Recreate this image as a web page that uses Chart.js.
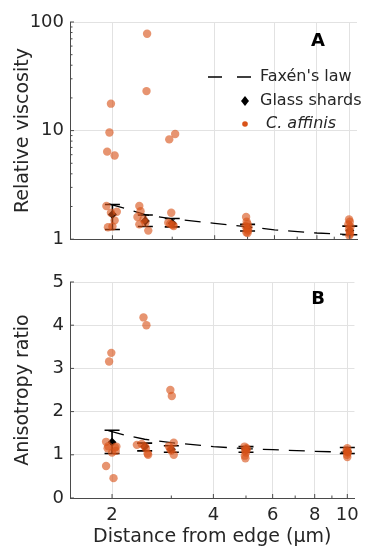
<!DOCTYPE html>
<html lang="en">
<head>
<meta charset="UTF-8">
<title>Relative viscosity and anisotropy</title>
<script src="https://cdn.jsdelivr.net/npm/chart.js"></script>
<style>
  body { margin:0; background:#fff; }
  .panel { position:absolute; left:0; width:366px; }
</style>
</head>
<body>
<div class="panel" style="top:0;height:256px;"><canvas id="chartA"></canvas></div>
<div class="panel" style="top:250px;height:297px;"><canvas id="chartB"></canvas></div>
<script>
// distance from edge (µm)
const xTicks = [2, 4, 6, 8, 10];
const xMinor = [3, 5, 7, 9];

// glass shards (mean + error bar)
const glassX   = [2, 2.5, 3, 5, 10];
const glassA   = [1.69, 1.47, 1.40, 1.28, 1.20];
const glassALo = [1.23, 1.31, 1.30, 1.19, 1.10];
const glassAHi = [2.09, 1.67, 1.55, 1.37, 1.32];
const glassB   = [1.29, 1.19, 1.13, 1.12, 1.08];
const glassBLo = [1.03, 1.09, 1.06, 1.06, 1.03];
const glassBHi = [1.57, 1.27, 1.21, 1.19, 1.17];

// Faxén's law curve
const faxenX = [1.95, 2.2, 2.5, 3, 4, 5, 6, 8, 10];
const faxenA = [2.12, 1.90, 1.68, 1.54, 1.40, 1.30, 1.22, 1.14, 1.10];
const faxenB = [1.56, 1.45, 1.36, 1.28, 1.19, 1.14, 1.12, 1.08, 1.06];

// C. affinis, panel A (relative viscosity)
const affAX = [1.98,1.96,1.93,2.03,1.92,2.06,2.03,1.94,2.0,1.98,
               2.53,2.52,2.40,2.42,2.37,2.40,2.55,2.47,2.5,
               3.06,2.94,2.98,2.92,3.01,2.96,3.03,
               4.95,4.97,5.0,4.93,5.03,4.98,5.02,4.96,5.0,
               9.95,10.0,9.9,10.05,9.95,10.0,10.02,9.97];
const affAY = [17.7,9.6,6.4,5.9,2.02,1.79,1.49,1.29,1.31,1.75,
               78,23.1,2.02,1.81,1.60,1.37,1.20,1.52,1.42,
               9.3,8.3,1.75,1.42,1.35,1.38,1.32,
               1.6,1.45,1.38,1.32,1.28,1.24,1.2,1.16,1.14,
               1.52,1.45,1.37,1.3,1.23,1.17,1.12,1.08];

// C. affinis, panel B (anisotropy ratio)
const affBX = [1.99,1.96,1.92,1.94,2.06,1.95,2.05,2.04,1.92,2.02,2.0,
               2.48,2.53,2.37,2.45,2.52,2.55,2.5,2.56,
               2.98,3.01,3.05,2.95,2.98,3.05,3.0,
               4.95,5.02,4.97,5.0,4.96,4.98,5.03,
               10.0,9.95,10.03,9.98,10.0,10.02];
const affBY = [3.36,3.16,1.30,1.15,1.19,1.20,1.09,1.17,0.74,0.46,1.05,
               4.18,4.0,1.23,1.25,1.15,1.03,1.2,1.0,
               2.5,2.36,1.28,1.2,1.13,1.0,1.1,
               1.19,1.15,1.10,1.05,0.98,0.92,1.12,
               1.15,1.1,1.05,1.0,0.95,1.07];

const ink = '#262626';
const axisCol = '#4a4a4a';
const gridCol = '#e2e2e2';
const orange = 'rgba(217,83,25,0.62)';
const font = 'DejaVu Sans';

const pts = (xs, ys) => xs.map((x, i) => ({x: x, y: ys[i]}));

// vertical error bars with caps for the glass shards
const errorBars = {
  id: 'errorBars',
  afterDatasetDraw(chart, args) {
    const ds = chart.data.datasets[args.index];
    if (!ds.errLo) return;
    const ctx = chart.ctx, sx = chart.scales.x, sy = chart.scales.y;
    ctx.save();
    ctx.strokeStyle = '#000';
    ctx.lineWidth = 1.6;
    ds.data.forEach((p, i) => {
      const px = sx.getPixelForValue(p.x);
      const lo = sy.getPixelForValue(ds.errLo[i]);
      const hi = sy.getPixelForValue(ds.errHi[i]);
      ctx.beginPath();
      ctx.moveTo(px, lo); ctx.lineTo(px, hi);
      ctx.moveTo(px - 7.5, lo); ctx.lineTo(px + 7.5, lo);
      ctx.moveTo(px - 7.5, hi); ctx.lineTo(px + 7.5, hi);
      ctx.stroke();
    });
    ctx.restore();
  }
};

// inward tick marks, panel letter and legend
const decor = {
  id: 'decor',
  afterDraw(chart, args, opt) {
    const ctx = chart.ctx, a = chart.chartArea;
    const sx = chart.scales.x, sy = chart.scales.y;
    ctx.save();
    ctx.strokeStyle = axisCol;
    ctx.lineWidth = 1;
    ctx.beginPath();
    xTicks.forEach(v => { const p = sx.getPixelForValue(v); ctx.moveTo(p, a.bottom); ctx.lineTo(p, a.bottom - 4); });
    xMinor.forEach(v => { const p = sx.getPixelForValue(v); ctx.moveTo(p, a.bottom); ctx.lineTo(p, a.bottom - 2.5); });
    opt.yMajor.forEach(v => { const p = sy.getPixelForValue(v); ctx.moveTo(a.left, p); ctx.lineTo(a.left + 4, p); });
    opt.yMinor.forEach(v => { const p = sy.getPixelForValue(v); ctx.moveTo(a.left, p); ctx.lineTo(a.left + 2.5, p); });
    ctx.stroke();

    ctx.fillStyle = '#000';
    ctx.font = 'bold 18px "' + font + '"';
    ctx.textAlign = 'center';
    ctx.textBaseline = 'middle';
    ctx.fillText(opt.letter, 318, opt.letterY);

    if (opt.legend) {
      ctx.textAlign = 'left';
      ctx.fillStyle = ink;
      ctx.font = '16px "' + font + '"';
      ctx.strokeStyle = '#000';
      ctx.lineWidth = 1.3;
      ctx.setLineDash([14, 15]);
      ctx.beginPath(); ctx.moveTo(208, 77); ctx.lineTo(258, 77); ctx.stroke();
      ctx.setLineDash([]);
      ctx.fillText("Faxén's law", 260, 77);
      ctx.fillStyle = '#000';
      ctx.beginPath();
      ctx.moveTo(245, 96); ctx.lineTo(249, 101); ctx.lineTo(245, 106); ctx.lineTo(241, 101);
      ctx.closePath(); ctx.fill();
      ctx.fillStyle = ink;
      ctx.fillText('Glass shards', 260, 101);
      ctx.fillStyle = 'rgb(217,83,25)';
      ctx.beginPath(); ctx.arc(245, 124, 2.8, 0, Math.PI * 2); ctx.fill();
      ctx.fillStyle = ink;
      ctx.font = 'italic 16px "' + font + '"';
      ctx.fillText('C. affinis', 266, 124);
    }
    ctx.restore();
  }
};

const makeChart = (id, cfg) => {
  const datasets = [
    {
      label: 'C. affinis',
      data: pts(cfg.affX, cfg.affY),
      backgroundColor: orange,
      borderWidth: 0,
      pointRadius: 4.2,
      pointHoverRadius: 4.2
    },
    {
      label: 'Glass shards',
      data: pts(glassX, cfg.glass),
      errLo: cfg.lo,
      errHi: cfg.hi,
      pointStyle: 'rectRot',
      backgroundColor: '#000',
      borderWidth: 0,
      pointRadius: 4.5
    },
    {
      label: "Faxén's law",
      data: pts(faxenX, cfg.faxen),
      showLine: true,
      borderColor: '#000',
      borderWidth: 1.3,
      borderDash: [16, 10],
      pointRadius: 0,
      fill: false
    }
  ];

  return new Chart(document.getElementById(id).getContext('2d'), {
    type: 'scatter',
    data: { datasets: datasets },
    options: {
      responsive: true,
      maintainAspectRatio: false,
      animation: false,
      layout: { autoPadding: false, padding: cfg.padding },
      plugins: {
        legend: { display: false },
        tooltip: { enabled: false },
        decor: cfg.decor
      },
      scales: {
        x: {
          type: 'logarithmic',
          min: 1.5,
          max: 10.5,
          afterBuildTicks: s => { s.ticks = xTicks.map(v => ({value: v})); },
          afterFit: s => { s.height = cfg.xHeight; },
          grid: { color: gridCol, drawTicks: false },
          border: { color: axisCol },
          ticks: {
            display: cfg.showX,
            color: ink,
            font: { family: font, size: 18 },
            padding: 7,
            maxRotation: 0,
            autoSkip: false,
            callback: v => String(v)
          },
          title: {
            display: cfg.showX,
            text: 'Distance from edge (µm)',
            color: ink,
            font: { family: font, size: 19 },
            padding: { top: 0, bottom: -1 }
          }
        },
        y: {
          type: cfg.yType,
          min: cfg.yMin,
          max: cfg.yMax,
          afterBuildTicks: s => { s.ticks = cfg.yTicks.map(v => ({value: v})); },
          afterFit: s => { s.width = 70; },
          grid: { color: gridCol, drawTicks: false },
          border: { color: axisCol },
          ticks: {
            color: ink,
            font: { family: font, size: 18 },
            padding: 6,
            callback: v => String(v)
          },
          title: {
            display: true,
            text: cfg.yTitle,
            color: ink,
            font: { family: font, size: 19 },
            padding: { top: 12, bottom: 0 }
          }
        }
      }
    },
    plugins: [errorBars, decor]
  });
};

makeChart('chartA', {
  affX: affAX, affY: affAY,
  glass: glassA, lo: glassALo, hi: glassAHi,
  faxen: faxenA,
  yType: 'logarithmic', yMin: 1, yMax: 100, yTicks: [1, 10, 100],
  yTitle: 'Relative viscosity',
  showX: false, xHeight: 0,
  padding: { top: 22, right: 9, bottom: 6, left: 0 },
  decor: { letter: 'A', letterY: 41, legend: true,
           yMajor: [1, 10, 100], yMinor: [2, 3, 4, 5, 6, 7, 8, 9, 20, 30, 40, 50, 60, 70, 80, 90] }
});

makeChart('chartB', {
  affX: affBX, affY: affBY,
  glass: glassB, lo: glassBLo, hi: glassBHi,
  faxen: faxenB,
  yType: 'linear', yMin: 0, yMax: 5, yTicks: [0, 1, 2, 3, 4, 5],
  yTitle: 'Anisotropy ratio',
  showX: true, xHeight: 49,
  padding: { top: 32, right: 9, bottom: 0, left: 0 },
  decor: { letter: 'B', letterY: 49, legend: false,
           yMajor: [0, 1, 2, 3, 4, 5], yMinor: [] }
});
</script>
</body>
</html>
